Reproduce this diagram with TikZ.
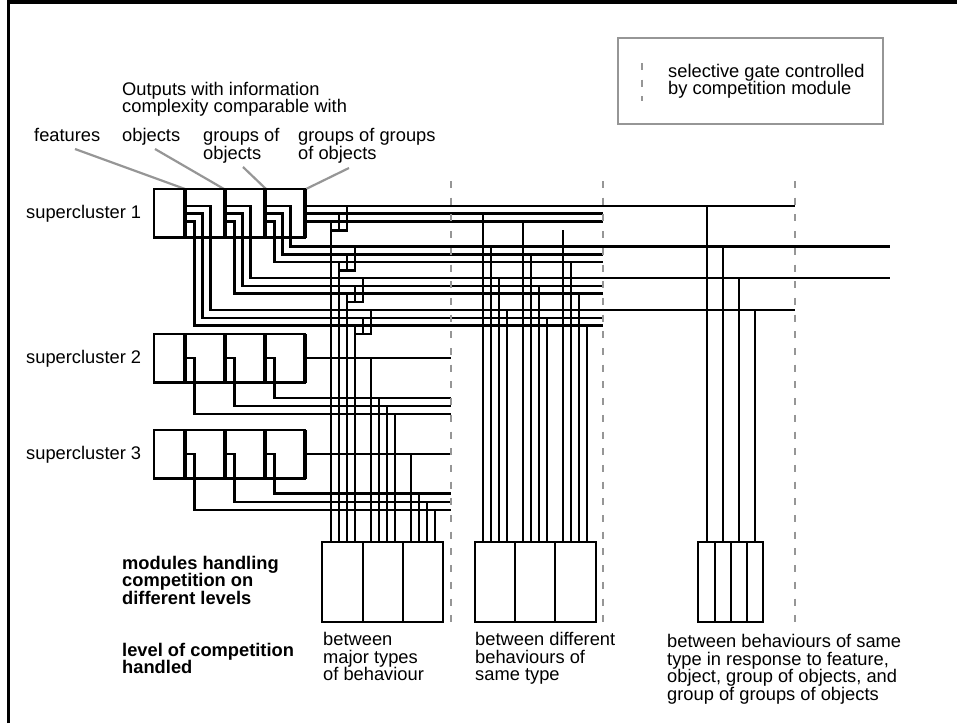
\documentclass[tikz,border=0pt]{standalone}
\usepackage{fontspec}
\setmainfont{Liberation Sans}
\usepackage{tikz}
\definecolor{wireblack}{RGB}{0,0,0}
\definecolor{gategrey}{RGB}{150,150,150}
\definecolor{pointergrey}{RGB}{150,150,150}
\tikzset{
  base/.style={font=\fontsize{18.3}{17.6}\selectfont, align=left, inner sep=0pt, anchor=base west, text=wireblack},
  lbl/.style={base},
  lblb/.style={base, font=\fontsize{18.3}{17.6}\selectfont\bfseries},
  wire/.style={line width=2.8pt, draw=wireblack},
  boxline/.style={line width=2.8pt, draw=wireblack},
  outbar/.style={line width=4.2pt, draw=wireblack},
  gate/.style={line width=2.8pt, draw=gategrey, dash pattern=on 7pt off 9.7pt},
  ptr/.style={line width=2.2pt, draw=pointergrey},
  legendbox/.style={line width=2.2pt, draw=pointergrey},
  outerframe/.style={line width=3.2pt, draw=wireblack},
}

\begin{document}
\begin{tikzpicture}[x=1pt,y=-1pt]
  \useasboundingbox (0,0) rectangle (957,723);
  \draw[outerframe] (8.5,723) -- (8.5,2) -- (957,2);
  % legend
  \draw[legendbox] (618,38) rectangle (883,124);
  \draw[gate] (642,63) -- (642,101);
  \node[lbl] (legtxt) at (668,94.6) {selective gate controlled\\by competition module};
  % headings
  \node[lbl] (outhead) at (122,112.6) {Outputs with information\\complexity comparable with};
  \node[lbl] (lfeat) at (34,141.7)  {features};
  \node[lbl] (lobj)  at (122,141.7) {objects};
  \node[lbl] (lgrp)  at (203,159.3) {groups of\\objects};
  \node[lbl] (lggrp) at (298,159.3) {groups of groups\\of objects};
  \coordinate (pF) at (75,149);   \coordinate (oF) at (185,189);
  \coordinate (pO) at (155,149);  \coordinate (oO) at (224,189);
  \coordinate (pG) at (243,167);  \coordinate (oG) at (266,189);
  \coordinate (pGG) at (349,168); \coordinate (oGG) at (306,189);
  \foreach \a/\b in {pF/oF,pO/oO,pG/oG,pGG/oGG}{\draw[ptr] (\a) -- (\b);}
  % superclusters
  \foreach \y/\n in {189/1,334/2,430/3}{
    \node[lbl] (sc\n) at (26,\y+29) {supercluster \n};
    \draw[boxline] (154,\y) rectangle (305,\y+48.5);
    \foreach \xt in {185,225,265,305}{\draw[outbar] (\xt,\y) -- (\xt,\y+48.5);}
  }
  % outputs of supercluster 1
  \foreach \xt/\yr/\xd/\yd/\xe in {305/206/305/206/795, 305/213.8/305/213.8/603, 305/221.6/305/221.6/603,
      265/206/290.5/246.5/890, 265/213.8/282.5/254.3/603, 265/221.6/274.5/262/603,
      225/206/250.5/278/890, 225/213.8/242.5/286/603, 225/221.6/234.5/293.5/603,
      185/206/210.5/310/795, 185/213.8/202.5/318/603, 185/221.6/194.5/325.5/603}{
    \draw[wire] (\xt,\yr) -| (\xd,\yd) -- (\xe,\yd);
  }
  % outputs of superclusters 2 and 3
  \foreach \xt/\yr/\xd/\yd in {305/358/305/358, 265/358/274.5/398, 225/358/234.5/406, 185/358/194.5/414,
      305/454/305/454, 265/454/274.5/493.5, 225/454/234.5/502, 185/454/194.5/510}{
    \draw[wire] (\xt,\yr) -| (\xd,\yd) -- (451,\yd);
  }
  % merged taps to first module
  \foreach \x/\ya/\yb/\yc in {331/206/213.8/221.6, 339/246.5/254.3/262, 347/278/286/293.5, 355/310/318/325.5}{
    \draw[wire] (\x+16,\ya) |- (\x,\yc+8.5);
    \draw[wire] (\x+8,\yb) -- (\x+8,\yc+8.5);
    \draw[wire] (\x,\yc) -- (\x,542);
  }
  % single taps
  \foreach \x/\y in {371/358, 379/398, 387/406, 395/414, 411/454, 419/493.5, 427/502, 435/510,
      483/213.8, 491/246.5, 499/278, 507/310, 523/221.6, 531/254.3, 539/286, 547/318,
      563/230, 571/262, 579/293.5, 587/325.5, 707/206, 723/246.5, 739/278, 755/310}{
    \draw[wire] (\x,\y) -- (\x,542);
  }
  % competition modules
  \draw[boxline] (322,542) rectangle (443,622);
  \draw[boxline] (475,542) rectangle (596,622);
  \draw[boxline] (698,542) rectangle (763,622);
  \foreach \x in {363,403,515,555,715,731,747}{\draw[boxline] (\x,542) -- (\x,622);}
  % gates
  \foreach \x in {451,603,795}{\draw[gate] (\x,181) -- (\x,622);}
  % bottom labels
  \node[lblb] (lmod) at (122,604.5) {modules handling\\competition on\\different levels};
  \node[lblb] (llev) at (122,673.6) {level of competition\\handled};
  \node[lbl] (lmaj)  at (323,680.9) {between\\major types\\of behaviour};
  \node[lbl] (ldiff) at (475,680.9) {between different\\behaviours of\\same type};
  \node[lbl] (lsame) at (667,700.3) {between behaviours of same\\type in response to feature,\\object, group of objects, and\\group of groups of objects};
\end{tikzpicture}
\end{document}
